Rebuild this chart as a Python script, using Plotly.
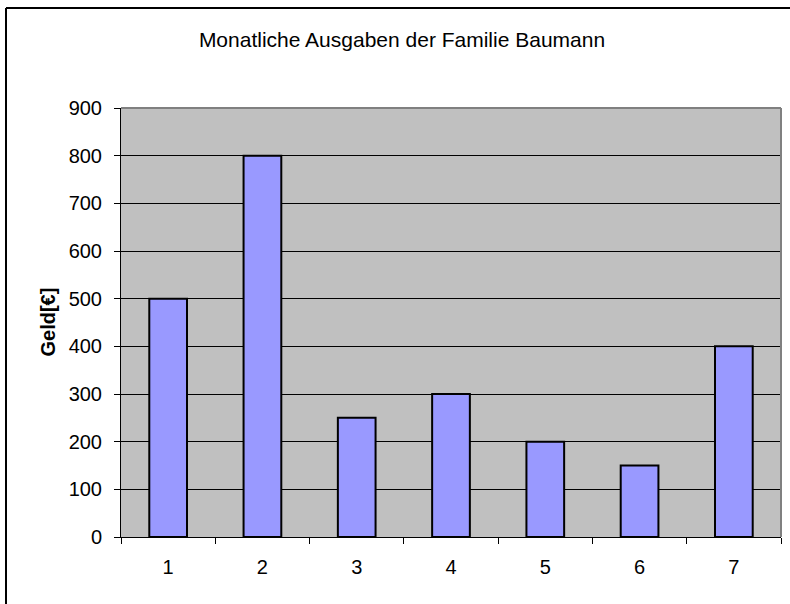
import plotly.graph_objects as go

categories = ["1", "2", "3", "4", "5", "6", "7"]
values = [500, 800, 250, 300, 200, 150, 400]
y_ticks = [0, 100, 200, 300, 400, 500, 600, 700, 800, 900]
title_text = "Monatliche Ausgaben der Familie Baumann"
y_title = "Geld[€]"

W, H = 790, 604
L, R, T, B = 121, 9, 108, 67
pw, ph = W - L - R, H - T - B

def px_x(p):
    return (p - L) / pw

def px_y(p):
    return (H - B - p) / ph

FONT = "Liberation Sans, Arial, sans-serif"

fig = go.Figure(go.Bar(
    x=categories, y=values,
    marker=dict(color="#9999FF", line=dict(color="black", width=2)),
))

fig.update_layout(
    width=W, height=H,
    margin=dict(l=L, r=R, t=T, b=B),
    paper_bgcolor="white",
    plot_bgcolor="#C0C0C0",
    bargap=0.6,
    showlegend=False,
    font=dict(family=FONT, color="black", size=20),
    title=dict(text=title_text, x=402 / W, xref="container", xanchor="center",
               y=1 - 40 / H, yref="container", yanchor="middle",
               font=dict(family=FONT, size=21, color="black")),
    xaxis=dict(
        type="category", tickson="boundaries", ticks="outside", ticklen=6,
        tickcolor="black", tickwidth=1, showline=True, linecolor="black",
        linewidth=1, showgrid=False, ticklabelstandoff=12,
        tickfont=dict(size=20), fixedrange=True,
    ),
    yaxis=dict(
        range=[0, 900], tickvals=y_ticks, ticks="outside", ticklen=6,
        tickcolor="black", tickwidth=1, showline=True, linecolor="black",
        linewidth=1, showgrid=True, gridcolor="black", gridwidth=1,
        zeroline=False, ticklabelstandoff=8, tickfont=dict(size=20),
        fixedrange=True,
    ),
    annotations=[dict(
        text="<b>" + y_title + "</b>", x=px_x(47), y=0.5, xref="paper", yref="paper",
        textangle=-90, showarrow=False, font=dict(family=FONT, size=20, color="black"),
        xanchor="center", yanchor="middle",
    )],
    shapes=[
        dict(type="line", xref="paper", yref="paper", x0=0, x1=1, y0=1, y1=1,
             line=dict(color="#808080", width=2), layer="above"),
        dict(type="line", xref="paper", yref="paper", x0=1, x1=1, y0=0, y1=1,
             line=dict(color="#808080", width=2), layer="above"),
        dict(type="line", xref="paper", yref="paper", x0=px_x(6), x1=px_x(800),
             y0=px_y(8), y1=px_y(8), line=dict(color="black", width=2)),
        dict(type="line", xref="paper", yref="paper", x0=px_x(6), x1=px_x(6),
             y0=px_y(8), y1=px_y(620), line=dict(color="black", width=2)),
    ],
)

fig.write_html(
    "out.html",
    config={"displayModeBar": False, "staticPlot": True},
    post_script="document.body.style.margin='0';document.body.style.overflow='hidden';",
)
